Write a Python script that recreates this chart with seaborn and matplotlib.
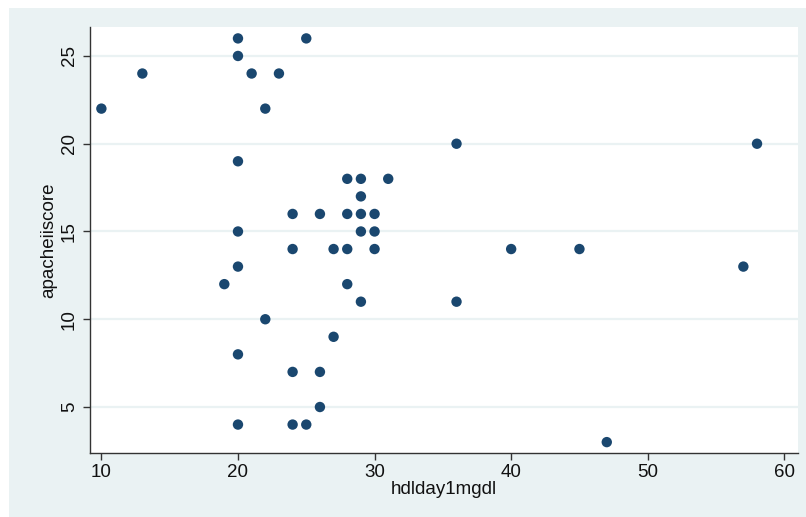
import matplotlib
matplotlib.use("Agg")
import matplotlib.pyplot as plt
import seaborn as sns
import pandas as pd
from matplotlib.patches import Rectangle

hdlday1mgdl = [10, 13, 20, 25, 20, 21, 23, 22, 20,
               28, 29, 31, 29,
               24, 26, 28, 29, 30,
               20, 29, 30,
               24, 27, 28, 30, 40, 45,
               20, 57,
               19, 28,
               29, 36,
               22, 27, 20, 24, 26, 26,
               20, 24, 25,
               36, 58, 47]
apacheiiscore = [22, 24, 26, 26, 25, 24, 24, 22, 19,
                 18, 18, 18, 17,
                 16, 16, 16, 16, 16,
                 15, 15, 15,
                 14, 14, 14, 14, 14, 14,
                 13, 13,
                 12, 12,
                 11, 11,
                 10, 9, 8, 7, 7, 5,
                 4, 4, 4,
                 20, 20, 3]

x_ticks = [10, 20, 30, 40, 50, 60]
y_ticks = [5, 10, 15, 20, 25]

df = pd.DataFrame({"hdlday1mgdl": hdlday1mgdl, "apacheiiscore": apacheiiscore})

sns.set_style("white")
plt.rcParams["font.family"] = ["Liberation Sans", "DejaVu Sans"]

W, H = 806, 517
fig = plt.figure(figsize=(W / 100, H / 100), dpi=100, facecolor="white")
bg = "#EAF2F3"
fig.patches.append(Rectangle((9 / W, 0), 1 - 9 / W, 1 - 8 / H, transform=fig.transFigure,
                             facecolor=bg, edgecolor="none", zorder=-10))

ax = fig.add_axes([89.5 / W, 1 - 453 / H, (798 - 89.5) / W, (453 - 27) / H])
ax.set_zorder(5)
ax.set_facecolor("white")

sns.scatterplot(data=df, x="hdlday1mgdl", y="apacheiiscore", ax=ax,
                color="#1A476F", s=56, edgecolor="none", linewidth=0, zorder=3)

ax.set_xlim(9.13, 61.0)
ax.set_ylim(2.38, 26.65)
ax.set_xticks(x_ticks)
ax.set_yticks(y_ticks)
fs = 13.5
ax.set_xticklabels([str(v) for v in x_ticks], fontsize=fs)
ax.set_yticklabels([str(v) for v in y_ticks], fontsize=fs, rotation=90, va="center")

for v in y_ticks:
    ax.axhline(v, color=bg, linewidth=1.6, zorder=1)

for s in ["top", "right"]:
    ax.spines[s].set_visible(False)
for s in ["left", "bottom"]:
    ax.spines[s].set_color("#333333")
    ax.spines[s].set_linewidth(1.0)

ax.tick_params(axis="both", direction="out", length=5.2, width=1, color="#333333",
               labelcolor="#111111", pad=3, left=True, bottom=True)

ax.set_xlabel("hdlday1mgdl", fontsize=fs, labelpad=0, color="#111111")
ax.set_ylabel("apacheiiscore", fontsize=fs, labelpad=3, color="#111111")

fig.savefig("out.png", dpi=100, facecolor="white")
